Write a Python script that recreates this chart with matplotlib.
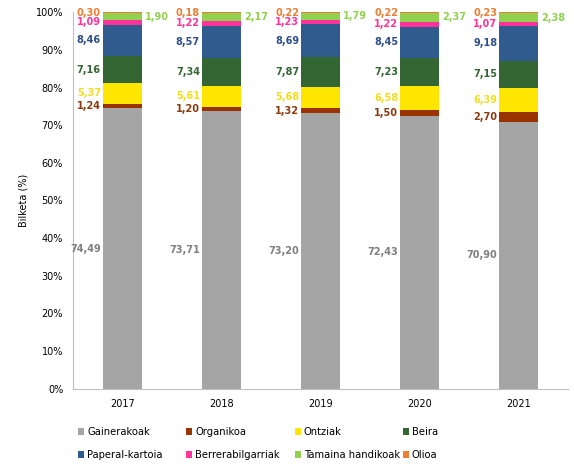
import numpy as np
import matplotlib.pyplot as plt
from matplotlib.patches import Patch
from matplotlib.transforms import offset_copy

years = ['2017', '2018', '2019', '2020', '2021']
categories = ['Gainerakoak', 'Organikoa', 'Ontziak', 'Beira',
              'Paperal-kartoia', 'Berrerabilgarriak', 'Tamaina handikoak', 'Olioa']

gainerakoak = [74.49, 73.71, 73.20, 72.43, 70.90]
organikoa = [1.24, 1.20, 1.32, 1.50, 2.70]
ontziak = [5.37, 5.61, 5.68, 6.58, 6.39]
beira = [7.16, 7.34, 7.87, 7.23, 7.15]
paperal = [8.46, 8.57, 8.69, 8.45, 9.18]
berrerabil = [1.09, 1.22, 1.23, 1.22, 1.07]
tamaina = [1.90, 2.17, 1.79, 2.37, 2.38]
olioa = [0.30, 0.18, 0.22, 0.22, 0.23]

series = [gainerakoak, organikoa, ontziak, beira, paperal, berrerabil, tamaina, olioa]
colors = ['#a5a5a5', '#993300', '#ffe600', '#336633',
          '#2f5b8f', '#ff3399', '#92d050', '#ed7d31']
label_colors = ['#7f7f7f', '#8b3a0e', '#f2de1c', '#336633',
                '#2f4f8a', '#ff3399', '#92d050', '#ed7d31']

fig = plt.figure(figsize=(5.74, 4.69), dpi=100)
ax = fig.add_axes([0.127, 0.171, 0.863, 0.803])

x = np.arange(len(years))
width = 0.395
bottom = np.zeros(len(years))
for vals, col, lcol, name in zip(series, colors, label_colors, categories):
    vals = np.array(vals)
    ax.bar(x, vals, width, bottom=bottom, color=col, linewidth=0, label=name)
    for xi, v, b in zip(x, vals, bottom):
        txt = f'{v:.2f}'.replace('.', ',')
        if name == 'Tamaina handikoak':
            tr = offset_copy(ax.transData, fig=fig, x=3, y=0, units='dots')
            ax.text(xi + width / 2, b + v / 2, txt, transform=tr, ha='left', va='center',
                    color=lcol, fontsize=7, fontweight='bold')
        else:
            tr = offset_copy(ax.transData, fig=fig, x=-2, y=0, units='dots')
            ax.text(xi - width / 2, b + v / 2, txt, transform=tr, ha='right', va='center',
                    color=lcol, fontsize=7, fontweight='bold')
    bottom += vals

ax.set_xlim(-0.5, len(years) - 0.5)
ax.set_ylim(0, 100)
ax.set_xticks(x)
ax.set_xticklabels(years, fontsize=7)
ax.set_yticks(np.arange(0, 101, 10))
ax.set_yticklabels([f'{v}%' for v in range(0, 101, 10)], fontsize=7)
ax.tick_params(length=0, pad=7)
ax.set_ylabel('Bilketa (%)', fontsize=7, labelpad=5)
for s in ['top', 'right']:
    ax.spines[s].set_visible(False)
for s in ['left', 'bottom']:
    ax.spines[s].set_color('#bfbfbf')
    ax.spines[s].set_linewidth(0.8)

# legend: 4 equal-width columns, 2 rows
col_x = [78, 186, 295, 403]
for c in range(4):
    hs = [Patch(facecolor=colors[i], label=categories[i]) for i in (c, c + 4)]
    fig.legend(handles=hs, loc='upper left',
               bbox_to_anchor=(col_x[c] / 574, 1 - 427 / 469),
               frameon=False, fontsize=7.2, handlelength=0.6, handleheight=0.6,
               handletextpad=0.3, labelspacing=1.3, borderpad=0, borderaxespad=0)

fig.savefig('out.png', dpi=100)
